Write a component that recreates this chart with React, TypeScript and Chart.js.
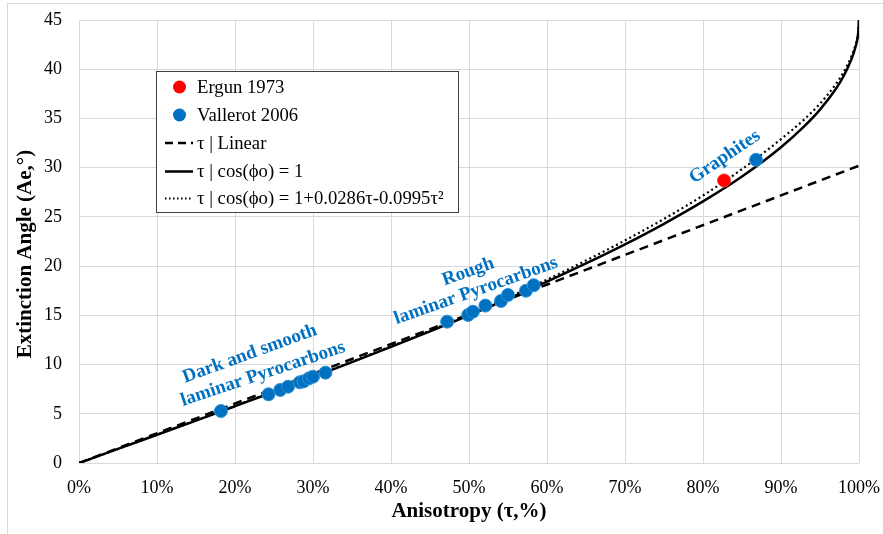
import React, { useEffect, useRef } from "react";
import { Chart, registerables } from "chart.js";

Chart.register(...registerables);

// Curve grid (anisotropy, fraction)
const curveTau = [0, 0.05, 0.1, 0.15, 0.2, 0.25, 0.3, 0.35, 0.4, 0.45, 0.5, 0.55, 0.6, 0.65, 0.7, 0.75, 0.8, 0.85, 0.9, 0.93, 0.95, 0.97, 0.98, 0.99, 0.995, 0.999, 1.0];
// τ | cos(φo) = 1
const solidAe = [0, 1.43, 2.87, 4.31, 5.77, 7.24, 8.73, 10.24, 11.79, 13.37, 15.0, 16.68, 18.43, 20.27, 22.21, 24.3, 26.57, 29.1, 32.08, 34.22, 35.9, 37.96, 39.26, 40.95, 42.13, 43.72, 45.0];
// τ | cos(φo) = 1+0.0286τ-0.0995τ²
const dottedAe = [0, 1.43, 2.88, 4.33, 5.8, 7.28, 8.78, 10.3, 11.86, 13.45, 15.1, 16.83, 18.63, 20.57, 22.61, 24.8, 27.17, 29.85, 32.9, 34.92, 36.5, 38.46, 39.66, 41.25, 42.33, 43.82, 45.0];
// τ | Linear
const linearTau = [0, 1.0];
const linearAe = [0, 30.2];

// Ergun 1973
const ergunTau = [0.827];
const ergunAe = [28.7];

// Vallerot 2006
const vallerotTau = [0.182, 0.243, 0.258, 0.268, 0.283, 0.288, 0.295, 0.3, 0.316, 0.472, 0.499, 0.505, 0.521, 0.541, 0.55, 0.573, 0.583, 0.868];
const vallerotAe = [5.28, 6.98, 7.42, 7.75, 8.2, 8.3, 8.6, 8.77, 9.18, 14.36, 15.04, 15.37, 15.99, 16.46, 17.07, 17.5, 18.06, 30.8];

const xTicks = [0, 0.1, 0.2, 0.3, 0.4, 0.5, 0.6, 0.7, 0.8, 0.9, 1.0];
const yTicks = [0, 5, 10, 15, 20, 25, 30, 35, 40, 45];

const legendLabels = ["Ergun 1973", "Vallerot 2006", "τ | Linear", "τ | cos(ϕo) = 1", "τ | cos(ϕo) = 1+0.0286τ-0.0995τ²"];

// Annotations: text, x, y (data coords), angle (deg)
const annoText = ["Dark and smooth", "laminar Pyrocarbons", "Rough", "laminar Pyrocarbons", "Graphites"];
const annoX = [0.219, 0.236, 0.499, 0.509, 0.828];
const annoY = [11.08, 9.04, 19.41, 17.48, 31.1];
const annoAngle = [-20, -18.5, -19.5, -19.5, -34];

const SERIF = "'Liberation Serif', 'Times New Roman', serif";
const BLUE = "#0070C0";

const zip = (xs: number[], ys: number[]) => xs.map((x, i) => ({ x, y: ys[i] }));

const overlayPlugin = {
  id: "overlay",
  beforeDraw(chart: any) {
    const ctx = chart.ctx;
    ctx.save();
    ctx.fillStyle = "#ffffff";
    ctx.fillRect(0, 0, chart.width, chart.height);
    ctx.strokeStyle = "#D9D9D9";
    ctx.lineWidth = 1;
    ctx.strokeRect(7.5, 3.5, chart.width + 20, chart.height + 20);
    ctx.restore();
  },
  afterDraw(chart: any) {
    const ctx = chart.ctx;
    const xs = chart.scales.x;
    const ys = chart.scales.y;
    ctx.save();
    // axis titles
    ctx.fillStyle = "#000";
    ctx.font = `bold 21px ${SERIF}`;
    ctx.textAlign = "center";
    ctx.textBaseline = "middle";
    ctx.fillText("Anisotropy (τ,%)", (xs.left + xs.right) / 2, 512);
    ctx.save();
    ctx.translate(26, 254);
    ctx.rotate(-Math.PI / 2);
    ctx.fillText("Extinction Angle (Ae,°)", 0, 0);
    ctx.restore();

    // annotations
    ctx.fillStyle = BLUE;
    ctx.font = `bold 19px ${SERIF}`;
    for (let i = 0; i < annoText.length; i++) {
      const px = xs.getPixelForValue(annoX[i]);
      const py = ys.getPixelForValue(annoY[i]);
      ctx.save();
      ctx.translate(px, py);
      ctx.rotate((annoAngle[i] * Math.PI) / 180);
      ctx.fillText(annoText[i], 0, 0);
      ctx.restore();
    }

    // legend box
    const bx = 156.5, by = 71.5, bw = 302, bh = 141;
    ctx.fillStyle = "#ffffff";
    ctx.fillRect(bx, by, bw, bh);
    ctx.strokeStyle = "#404040";
    ctx.lineWidth = 1;
    ctx.strokeRect(bx, by, bw, bh);
    const rowY = [87, 115, 143, 171.5, 198.5];
    const tx = 197;
    ctx.font = `18.7px ${SERIF}`;
    ctx.textAlign = "left";
    ctx.textBaseline = "middle";
    for (let i = 0; i < legendLabels.length; i++) {
      const y = rowY[i];
      if (i < 2) {
        ctx.beginPath();
        ctx.arc(179.5, y, 6.5, 0, Math.PI * 2);
        ctx.fillStyle = i === 0 ? "#FF0000" : BLUE;
        ctx.fill();
      } else {
        ctx.beginPath();
        ctx.strokeStyle = "#000";
        ctx.lineWidth = i === 4 ? 2 : 2.5;
        ctx.setLineDash(i === 2 ? [8, 5] : i === 4 ? [1.5, 2.5] : []);
        ctx.moveTo(165, y);
        ctx.lineTo(193, y);
        ctx.stroke();
        ctx.setLineDash([]);
      }
      ctx.fillStyle = "#000";
      ctx.fillText(legendLabels[i], tx, y + 1);
    }
    ctx.restore();
  },
};

export default function App() {
  const ref = useRef<HTMLCanvasElement | null>(null);
  useEffect(() => {
    document.body.style.margin = "0";
    const canvas = ref.current;
    if (!canvas) return;
    const chart = new Chart(canvas, {
      type: "scatter",
      data: {
        datasets: [
          {
            label: "Ergun 1973",
            data: zip(ergunTau, ergunAe),
            backgroundColor: "#FF0000",
            borderColor: "#FF3030",
            borderWidth: 1,
            pointRadius: 6.5,
            order: 0,
          },
          {
            label: "Vallerot 2006",
            data: zip(vallerotTau, vallerotAe),
            backgroundColor: BLUE,
            borderColor: "#2E94DA",
            borderWidth: 1,
            pointRadius: 6.5,
            order: 0,
          },
          {
            label: "τ | Linear",
            data: zip(linearTau, linearAe),
            showLine: true,
            borderColor: "#000",
            borderWidth: 2.5,
            borderDash: [9, 6],
            pointRadius: 0,
            order: 3,
          },
          {
            label: "τ | cos(ϕo) = 1",
            data: zip(curveTau, solidAe),
            showLine: true,
            borderColor: "#000",
            borderWidth: 2.5,
            cubicInterpolationMode: "monotone",
            pointRadius: 0,
            order: 2,
          },
          {
            label: "τ | cos(ϕo) = 1+0.0286τ-0.0995τ²",
            data: zip(curveTau, dottedAe),
            showLine: true,
            borderColor: "#000",
            borderWidth: 2.2,
            borderDash: [2, 3],
            cubicInterpolationMode: "monotone",
            pointRadius: 0,
            order: 1,
          },
        ],
      },
      options: {
        responsive: false,
        animation: false,
        layout: { padding: { top: 20, right: 24, left: 0, bottom: 0 } },
        plugins: { legend: { display: false }, tooltip: { enabled: false } },
        scales: {
          x: {
            type: "linear",
            min: 0,
            max: 1,
            afterFit: (s: any) => { s.height = 71; s.paddingLeft = 0; s.paddingRight = 0; },
            afterBuildTicks: (s: any) => { s.ticks = xTicks.map((v) => ({ value: v })); },
            grid: { color: "#D9D9D9", lineWidth: 1, drawTicks: false },
            border: { display: false },
            ticks: {
              padding: 14,
              color: "#000",
              font: { family: SERIF, size: 18 },
              callback: (v: any) => `${Math.round(Number(v) * 100)}%`,
            },
          },
          y: {
            type: "linear",
            min: 0,
            max: 45,
            afterFit: (s: any) => { s.width = 79; s.paddingTop = 0; s.paddingBottom = 0; },
            afterBuildTicks: (s: any) => { s.ticks = yTicks.map((v) => ({ value: v })); },
            grid: { color: "#D9D9D9", lineWidth: 1, drawTicks: false },
            border: { display: false },
            ticks: {
              padding: 17,
              color: "#000",
              font: { family: SERIF, size: 18 },
            },
          },
        },
      },
      plugins: [overlayPlugin],
    } as any);
    return () => chart.destroy();
  }, []);
  return (
    <div style={{ width: 883, height: 534 }}>
      <canvas ref={ref} width={883} height={534} style={{ display: "block" }} />
    </div>
  );
}
